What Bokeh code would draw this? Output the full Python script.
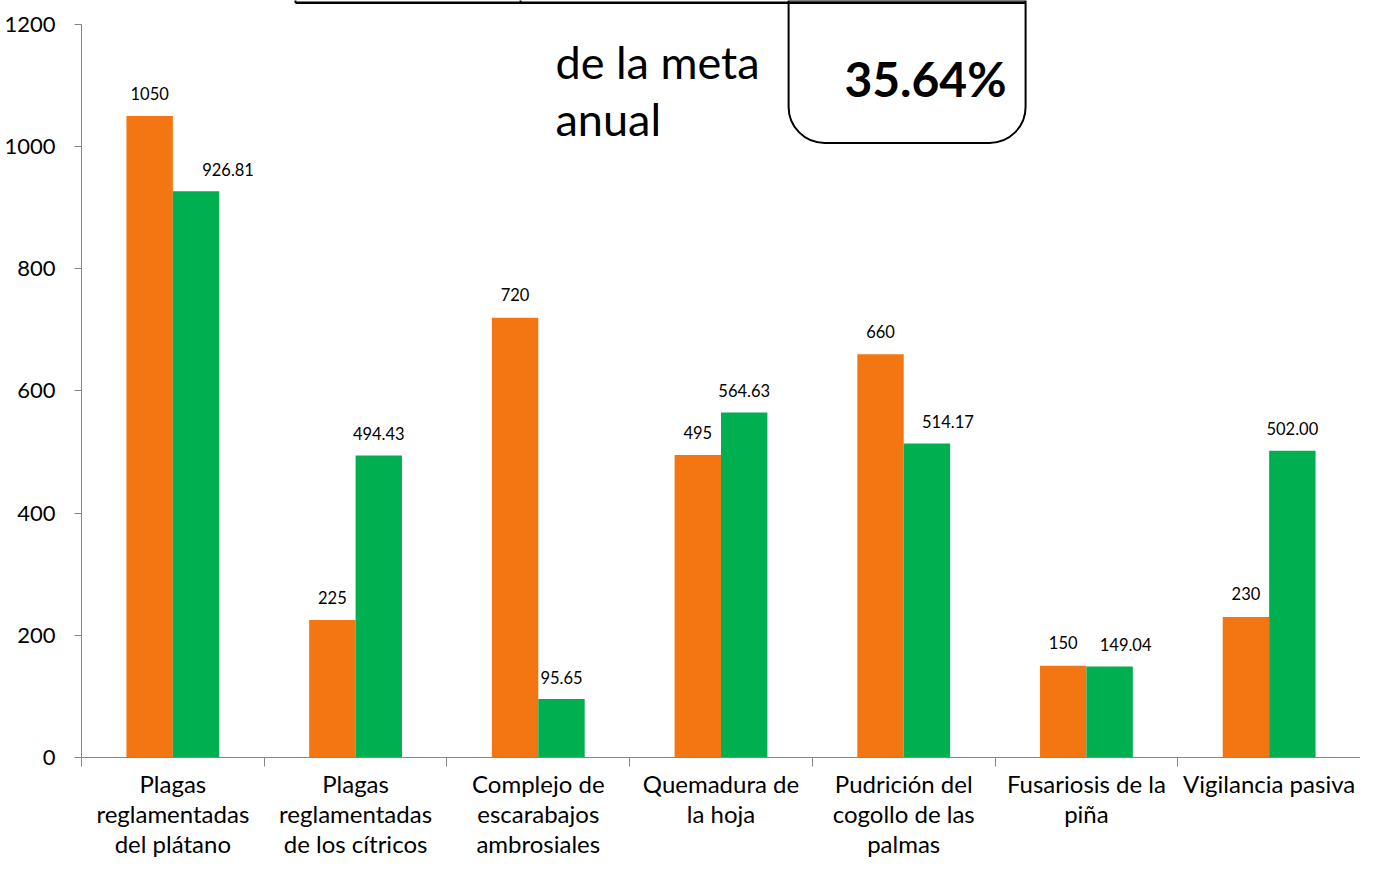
from bokeh.plotting import figure
from bokeh.models import Range1d, FixedTicker, BoxAnnotation, Label, ColumnDataSource
from bokeh.transform import dodge
from bokeh.core.properties import value
from bokeh.embed import file_html
from bokeh.resources import INLINE

categories = [
    "Plagas\nreglamentadas\ndel plátano",
    "Plagas\nreglamentadas\nde los cítricos",
    "Complejo de\nescarabajos\nambrosiales",
    "Quemadura de\nla hoja",
    "Pudrición del\ncogollo de las\npalmas",
    "Fusariosis de la\npiña",
    "Vigilancia pasiva",
]
meta = [1050, 225, 720, 495, 660, 150, 230]
logro = [926.81, 494.43, 95.65, 564.63, 514.17, 149.04, 502.00]
y_ticks = [0, 200, 400, 600, 800, 1000, 1200]
pct_text = "35.64%"
side_text_1 = "de la meta"
side_text_2 = "anual"

# label nudges (pixels) of the green value labels, as placed in the original
logro_label_dx = [32, 0, 0, 0, 21, 16, 0]

FONT = "Lato"
ORANGE = "#F47612"
GREEN = "#00B050"
AXIS = "#868686"

centers = [i + 0.5 for i in range(len(categories))]
src = ColumnDataSource(dict(
    x=centers,
    meta=meta,
    logro=logro,
    meta_lbl=[str(v) for v in meta],
    logro_lbl=[f"{v:.2f}" for v in logro],
    dx=logro_label_dx,
))

p = figure(width=1360, height=860, x_range=Range1d(0, len(categories)),
           y_range=Range1d(0, 1239.2), output_backend="svg", toolbar_location=None,
           min_border_left=81, min_border_right=0, min_border_top=0, min_border_bottom=100)
p.outline_line_color = None
p.xgrid.grid_line_color = None
p.ygrid.grid_line_color = None
p.background_fill_color = "white"

# overlay box (top), drawn beneath the glyphs
box = BoxAnnotation(left=3.870, right=5.167, bottom=1006, top=None, level="underlay",
                    fill_color="white", fill_alpha=1.0, line_color="black", line_alpha=1.0,
                    line_width=2,
                    border_radius=dict(top_left=0, top_right=0, bottom_right=36, bottom_left=36))
p.add_layout(box)
p.segment(x0=[1.171], y0=[1235.5], x1=[5.167], y1=[1235.5], line_color="black", line_width=2.5)
p.segment(x0=[1.171, 2.403], y0=[1235.5, 1235.5], x1=[1.171, 2.403], y1=[1241, 1241],
          line_color="black", line_width=2)

bw = 0.254
p.vbar(x=dodge("x", -bw / 2), top="meta", width=bw, source=src, fill_color=ORANGE, line_color=None)
p.vbar(x=dodge("x", bw / 2), top="logro", width=bw, source=src, fill_color=GREEN, line_color=None)

p.text(x=dodge("x", -bw / 2), y="meta", text="meta_lbl", source=src, text_align="center",
       text_baseline="middle", y_offset=-23, text_font=value(FONT), text_font_size="16.5px",
       text_color="black")
p.text(x=dodge("x", bw / 2), y="logro", text="logro_lbl", source=src, text_align="center",
       text_baseline="middle", x_offset="dx", y_offset=-22, text_font=value(FONT),
       text_font_size="16.5px", text_color="black")

# y axis
ya = p.yaxis[0]
ya.ticker = FixedTicker(ticks=y_ticks)
ya.bounds = (0, 1200)
ya.axis_line_color = AXIS
ya.major_tick_line_color = AXIS
ya.major_tick_out = 7
ya.major_tick_in = 0
ya.minor_tick_line_color = None
ya.major_label_text_font = FONT
ya.major_label_text_font_size = "22px"
ya.major_label_text_color = "black"
ya.major_label_standoff = 19

# x axis
xa = p.xaxis[0]
xa.ticker = FixedTicker(ticks=centers, minor_ticks=list(range(len(categories) + 1)))
xa.axis_line_color = AXIS
xa.major_tick_line_color = None
xa.major_tick_out = 0
xa.major_tick_in = 0
xa.minor_tick_line_color = AXIS
xa.minor_tick_out = 9
xa.minor_tick_in = 0
xa.major_label_overrides = {c: lab for c, lab in zip(centers, categories)}
xa.major_label_text_font = FONT
xa.major_label_text_font_size = "24px"
xa.major_label_text_color = "black"
xa.major_label_text_line_height = 1.04
xa.major_label_standoff = 2

p.add_layout(Label(x=2.594, y=1138, text=side_text_1, text_font=FONT, text_font_size="45px",
                   text_baseline="middle", text_align="left", text_color="black"))
p.add_layout(Label(x=2.594, y=1045, text=side_text_2, text_font=FONT, text_font_size="45px",
                   text_baseline="middle", text_align="left", text_color="black"))
p.add_layout(Label(x=4.619, y=1112, text=pct_text, text_font=FONT, text_font_size="48px",
                   text_font_style="bold", text_baseline="middle", text_align="center",
                   text_color="black"))

open("out.html", "w").write(file_html(p, INLINE))
